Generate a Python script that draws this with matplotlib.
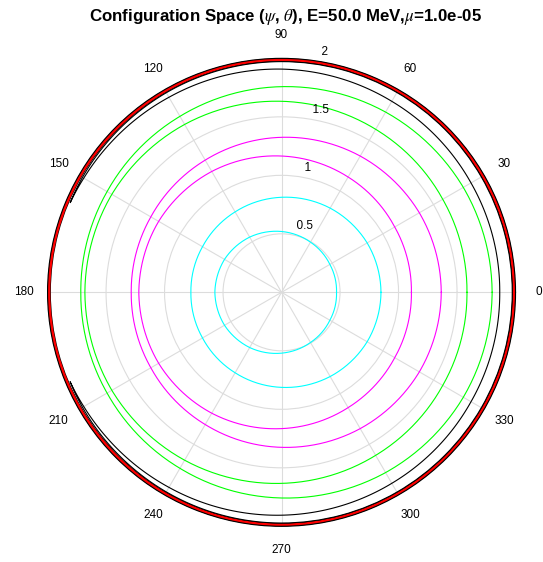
import numpy as np
import matplotlib
matplotlib.use("Agg")
import matplotlib.pyplot as plt
import matplotlib.patheffects as pe

plt.rcParams['font.family'] = ['Liberation Sans', 'DejaVu Sans']
plt.rcParams['mathtext.fontset'] = 'stix'

# orbit radii (psi) sampled every 30 deg of theta
theta_deg = [0, 30, 60, 90, 120, 150, 180, 210, 240, 270, 300, 330, 360]
cyan_in = [0.47, 0.477, 0.495, 0.52, 0.545, 0.563, 0.57, 0.563, 0.545, 0.52, 0.495, 0.477, 0.47]
cyan_out = [0.85, 0.845, 0.831, 0.8125, 0.794, 0.78, 0.775, 0.78, 0.794, 0.8125, 0.831, 0.845, 0.85]
mag_in = [1.11, 1.117, 1.138, 1.165, 1.193, 1.213, 1.22, 1.213, 1.193, 1.165, 1.138, 1.117, 1.11]
mag_out = [1.365, 1.36, 1.345, 1.325, 1.305, 1.29, 1.285, 1.29, 1.305, 1.325, 1.345, 1.36, 1.365]
grn_in = [1.585, 1.591, 1.609, 1.633, 1.657, 1.675, 1.681, 1.675, 1.657, 1.633, 1.609, 1.591, 1.585]
grn_out = [1.80, 1.794, 1.779, 1.758, 1.737, 1.722, 1.716, 1.722, 1.737, 1.758, 1.779, 1.794, 1.80]
red_r = [1.99, 1.99, 1.99, 1.99, 1.99, 1.99, 1.99, 1.99, 1.99, 1.99, 1.99, 1.99, 1.99]

# trapped (banana) orbit: outer leg then inner leg back
bk_theta = [-157, -150, -120, -90, -60, -30, 0, 30, 60, 90, 120, 150, 157,
            150, 140, 120, 90, 60, 30, 0, -30, -60, -90, -120, -140, -150, -157]
bk_r = [1.962, 1.965, 1.97, 1.972, 1.972, 1.972, 1.972, 1.972, 1.972, 1.972, 1.97, 1.965, 1.962,
        1.952, 1.942, 1.925, 1.908, 1.885, 1.87, 1.865, 1.87, 1.885, 1.905, 1.925, 1.942, 1.952, 1.962]

r_ticks = [0.5, 1, 1.5, 2]
r_ticklabels = ['0.5', '1', '1.5', '2']
angle_ticks = list(range(0, 360, 30))

fig = plt.figure(figsize=(5.43, 5.62), dpi=100)
ax = fig.add_axes([0.0875, 0.0635, 0.862, 0.8327], projection='polar')
ax.set_rlim(0, 2)
ax.set_rgrids([0.5, 1, 1.5], labels=[])
ax.set_thetagrids(angle_ticks, labels=[])
ax.grid(color='#dcdcdc', lw=0.8)
ax.set_axisbelow(True)
ax.spines['polar'].set_color('black')
ax.spines['polar'].set_linewidth(0.8)


def orbit(theta, r, **kw):
    line, = ax.plot(np.deg2rad(theta), r, **kw)
    # let the polar transform bend each segment into an arc
    line.get_path()._interpolation_steps = 40
    return line


orbit(theta_deg, cyan_in, color='#00ffff', lw=0.8)
orbit(theta_deg, cyan_out, color='#00ffff', lw=0.8)
orbit(theta_deg, mag_in, color='#ff00ff', lw=0.8)
orbit(theta_deg, mag_out, color='#ff00ff', lw=0.8)
orbit(theta_deg, grn_in, color='#00ff00', lw=0.8)
orbit(theta_deg, grn_out, color='#00ff00', lw=0.8)
orbit(theta_deg, red_r, color='red', lw=2.3,
      path_effects=[pe.Stroke(linewidth=3.1, foreground='black'), pe.Normal()])
orbit(bk_theta, bk_r, color='black', lw=0.8)

# angle labels outside the rim
for a in angle_ticks:
    ax.text(np.deg2rad(a), 2.2, str(a), ha='center', va='center', fontsize=8.5)

# radial labels along the 82 deg line
for r, lab in zip(r_ticks, r_ticklabels):
    ax.text(np.deg2rad(82), r + 0.025, '  ' + lab, ha='left', va='bottom', fontsize=8.5)

fig.text(286 / 543, 1 - 17 / 562,
         r'Configuration Space ($\psi$, $\theta$), E=50.0 MeV,$\mu$=1.0e-05',
         ha='center', va='center', fontsize=12.2, fontweight='bold')

fig.savefig('out.png', dpi=100)
